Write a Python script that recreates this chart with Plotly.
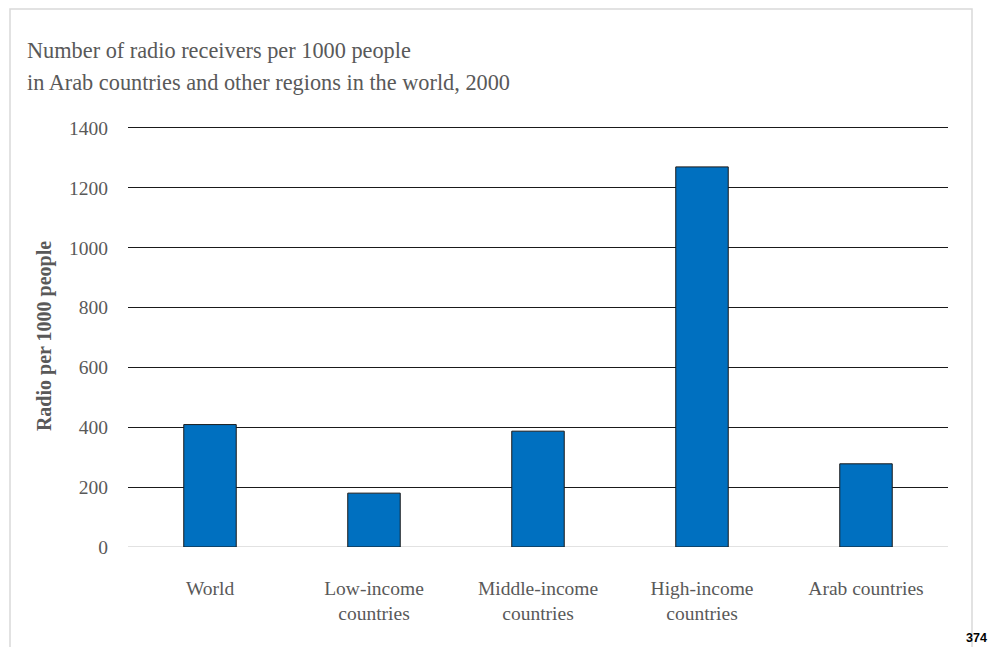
import plotly.graph_objects as go

categories = ["World", "Low-income<br>countries", "Middle-income<br>countries",
              "High-income<br>countries", "Arab countries"]
radio_per_1000 = [409, 180, 387, 1270, 278]
y_ticks = [0, 200, 400, 600, 800, 1000, 1200, 1400]

title_line1 = "Number of radio receivers per 1000 people"
title_line2 = "in Arab countries and other regions in the world, 2000"

OFF = 8  # page body margin
W, H = 998 - 2 * OFF, 655 - 2 * OFF
L, T = 128 - OFF, 125 - OFF
R = W - (948 - OFF)
B = H - (547 - OFF)
pw = W - L - R
ph = H - T - B

def px_x(p):
    return (p - OFF - L) / pw

def px_y(p):
    return (H - B - (p - OFF)) / ph

serif = "Liberation Serif, Times New Roman, serif"
gray = "#595959"

fig = go.Figure(go.Bar(
    x=categories, y=radio_per_1000,
    marker=dict(color="#0070C0", line=dict(color="#1a1a1a", width=1)),
    width=0.32,
))

fig.update_layout(
    width=W, height=H,
    margin=dict(l=L, r=R, t=T, b=B),
    paper_bgcolor="white", plot_bgcolor="white",
    showlegend=False,
    font=dict(family=serif, color=gray),
    xaxis=dict(showgrid=False, showline=False, ticks="",
               tickfont=dict(family=serif, size=19.5, color=gray),
               ticklabelstandoff=27),
    yaxis=dict(range=[0, 1410], tickvals=y_ticks, showgrid=True,
               gridcolor="#1a1a1a", gridwidth=1.2, zeroline=False,
               showline=False, ticks="",
               tickfont=dict(family=serif, size=19.5, color=gray),
               ticklabelstandoff=19,
               title=dict(text="<b>Radio per 1000 people</b>",
                          font=dict(family=serif, size=20, color=gray),
                          standoff=12)),
    shapes=[
        dict(type="line", xref="paper", yref="y", x0=0, x1=1, y0=0, y1=0,
             line=dict(color="#d9d9d9", width=1.5), layer="below"),
        dict(type="rect", xref="paper", yref="paper",
             x0=px_x(10), x1=px_x(972), y0=px_y(670), y1=px_y(9),
             line=dict(color="#d9d9d9", width=1.5), layer="below"),
    ],
    annotations=[
        dict(text=title_line1, xref="paper", yref="paper", x=px_x(25), y=px_y(50),
             xanchor="left", yanchor="middle", showarrow=False,
             font=dict(family=serif, size=22.3, color=gray)),
        dict(text=title_line2, xref="paper", yref="paper", x=px_x(25), y=px_y(83),
             xanchor="left", yanchor="middle", showarrow=False,
             font=dict(family=serif, size=22.3, color=gray)),
        dict(text="<b>374</b>", xref="paper", yref="paper", x=px_x(989), y=px_y(638),
             xanchor="right", yanchor="middle", showarrow=False,
             font=dict(family="Liberation Sans, Arial, sans-serif", size=12.5, color="black")),
    ],
)

fig.write_html("out.html")
